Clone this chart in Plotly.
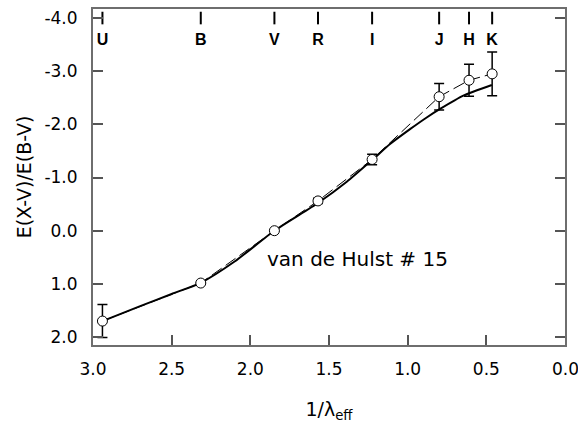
import plotly.graph_objects as go

# Photometric bands
bands = ["U", "B", "V", "R", "I", "J", "H", "K"]
inv_lambda = [2.94, 2.315, 1.847, 1.57, 1.226, 0.80, 0.61, 0.463]
ratio_obs = [1.70, 0.985, 0.0, -0.56, -1.34, -2.52, -2.83, -2.95]
ratio_err = [0.31, 0.0, 0.0, 0.05, 0.10, 0.25, 0.30, 0.41]

# van de Hulst curve #15
curve_x = [2.94, 2.70, 2.50, 2.315, 2.10, 1.847, 1.57, 1.387, 1.226, 1.112, 0.985, 0.879, 0.794, 0.646, 0.465]
curve_y = [1.70, 1.42, 1.19, 0.98, 0.58, 0.0, -0.52, -0.92, -1.33, -1.63, -1.91, -2.13, -2.29, -2.54, -2.74]

band_tick_y = [-4.0] * len(bands)
band_label_y = [-3.57] * len(bands)

y_ticks = [-4.0, -3.0, -2.0, -1.0, 0.0, 1.0, 2.0]
y_ticktext = ["-4.0", "-3.0", "-2.0", "-1.0", "0.0", "1.0", "2.0"]
x_ticks = [3.0, 2.5, 2.0, 1.5, 1.0, 0.5]
x_ticktext = ["3.0", "2.5", "2.0", "1.5", "1.0", "0.5"]
x_edge_tick = 0.0
x_edge_text = "0.0"

font_main = "DejaVu Sans"

fig = go.Figure()

# smooth model curve
fig.add_trace(go.Scatter(
    x=curve_x, y=curve_y, mode="lines",
    line=dict(color="black", width=2, shape="spline", smoothing=0.6),
    hoverinfo="skip", showlegend=False))

# dashed connection of observations
fig.add_trace(go.Scatter(
    x=inv_lambda, y=ratio_obs, mode="lines",
    line=dict(color="black", width=1, dash="12px,5px"),
    hoverinfo="skip", showlegend=False))

# observed points with error bars
fig.add_trace(go.Scatter(
    x=inv_lambda, y=ratio_obs, mode="markers",
    marker=dict(symbol="circle", size=10, color="white",
                line=dict(color="black", width=1)),
    error_y=dict(type="data", array=ratio_err, visible=True,
                 color="black", thickness=1.5, width=5),
    showlegend=False))

# band position marks
fig.add_trace(go.Scatter(
    x=inv_lambda, y=band_tick_y, mode="markers",
    marker=dict(symbol="line-ns", size=9,
                line=dict(color="black", width=2)),
    hoverinfo="skip", showlegend=False))

fig.add_trace(go.Scatter(
    x=inv_lambda, y=band_label_y, mode="text", text=bands,
    textfont=dict(family="Liberation Sans", size=16, color="black"),
    texttemplate="<b>%{text}</b>",
    hoverinfo="skip", showlegend=False))

fig.add_annotation(x=1.32, y=0.54, text="van de Hulst # 15", showarrow=False,
                   font=dict(family=font_main, size=20, color="black"))

# right-edge x tick label (kept as annotation so it does not push the margin)
fig.add_annotation(x=x_edge_tick, xref="x", y=0, yref="paper", yanchor="top",
                   yshift=-12, text=x_edge_text, showarrow=False,
                   font=dict(family=font_main, size=17, color="black"))

axis_common = dict(
    showgrid=False, zeroline=False,
    showline=True, linecolor="#6e6e6e", linewidth=2,
    ticks="inside", ticklen=10, tickwidth=1.5, tickcolor="#555555",
    tickfont=dict(family=font_main, size=17, color="black"),
)

fig.update_layout(
    width=578, height=431,
    margin=dict(l=93, r=13, t=7, b=86),
    paper_bgcolor="white", plot_bgcolor="white",
    xaxis=dict(range=[3.0, 0.0], tickvals=x_ticks, ticktext=x_ticktext,
               mirror=True, ticklabelstandoff=8,
               title=dict(text="1/λ<sub>eff</sub>",
                          font=dict(family=font_main, size=19, color="black"),
                          standoff=24),
               **axis_common),
    yaxis=dict(range=[2.15, -4.17], tickvals=y_ticks, ticktext=y_ticktext,
               mirror="ticks", ticklabelstandoff=10,
               title=dict(text="E(X-V)/E(B-V)",
                          font=dict(family=font_main, size=19, color="black"),
                          standoff=8),
               **axis_common),
)

fig.write_html("out.html")
